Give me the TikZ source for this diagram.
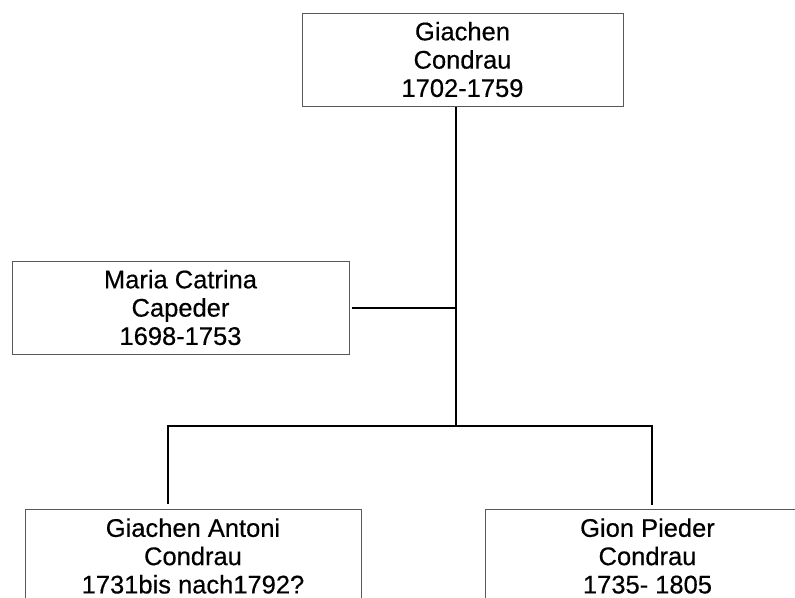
\documentclass[tikz,border=0pt]{standalone}
\usepackage{fontspec}
\setmainfont{Liberation Sans}
\newfontfamily\personfont{Liberation Sans}[FakeBold=0.4]
\begin{document}
\begin{tikzpicture}[x=1pt,y=-1pt,
  person/.style={draw=black!65, line width=1pt, fill=white, align=center, inner sep=0pt,
    minimum height=93pt, font=\personfont\fontsize{25.5}{28.3}\selectfont},
  link/.style={line width=2.6pt, black}]
\useasboundingbox (0,0) rectangle (795,597);
\clip (0,0) rectangle (795,597);
\fill[white] (0,0) rectangle (795,597);
\node[person, minimum width=321pt] (top) at (462.5,59.5) {Giachen\\Condrau\\1702-1759};
\node[person, minimum width=337pt] (maria) at (180.5,307.5) {Maria Catrina\\Capeder\\1698-1753};
\node[person, minimum width=336pt] (lb) at (193,556) {Giachen Antoni\\Condrau\\1731bis nach1792?};
\node[person, anchor=west] (rb) at (485,556)
  {\parbox[c]{324pt}{\centering Gion Pieder\\Condrau\\1735- 1805}\hspace{40pt}};
\coordinate (j1) at (456,308);
\coordinate (j2) at (456,426);
\coordinate (l) at (168,426);
\coordinate (r) at (652,426);
\draw[link] (top.south -| j1) -- (j2);
\draw[link, shorten <=2pt] (maria.east |- j1) -- (j1);
\draw[link, line join=miter] (l |- lb.north) ++(0,-5) -- (l) -- (r) -- ++(0,79);
\end{tikzpicture}
\end{document}
